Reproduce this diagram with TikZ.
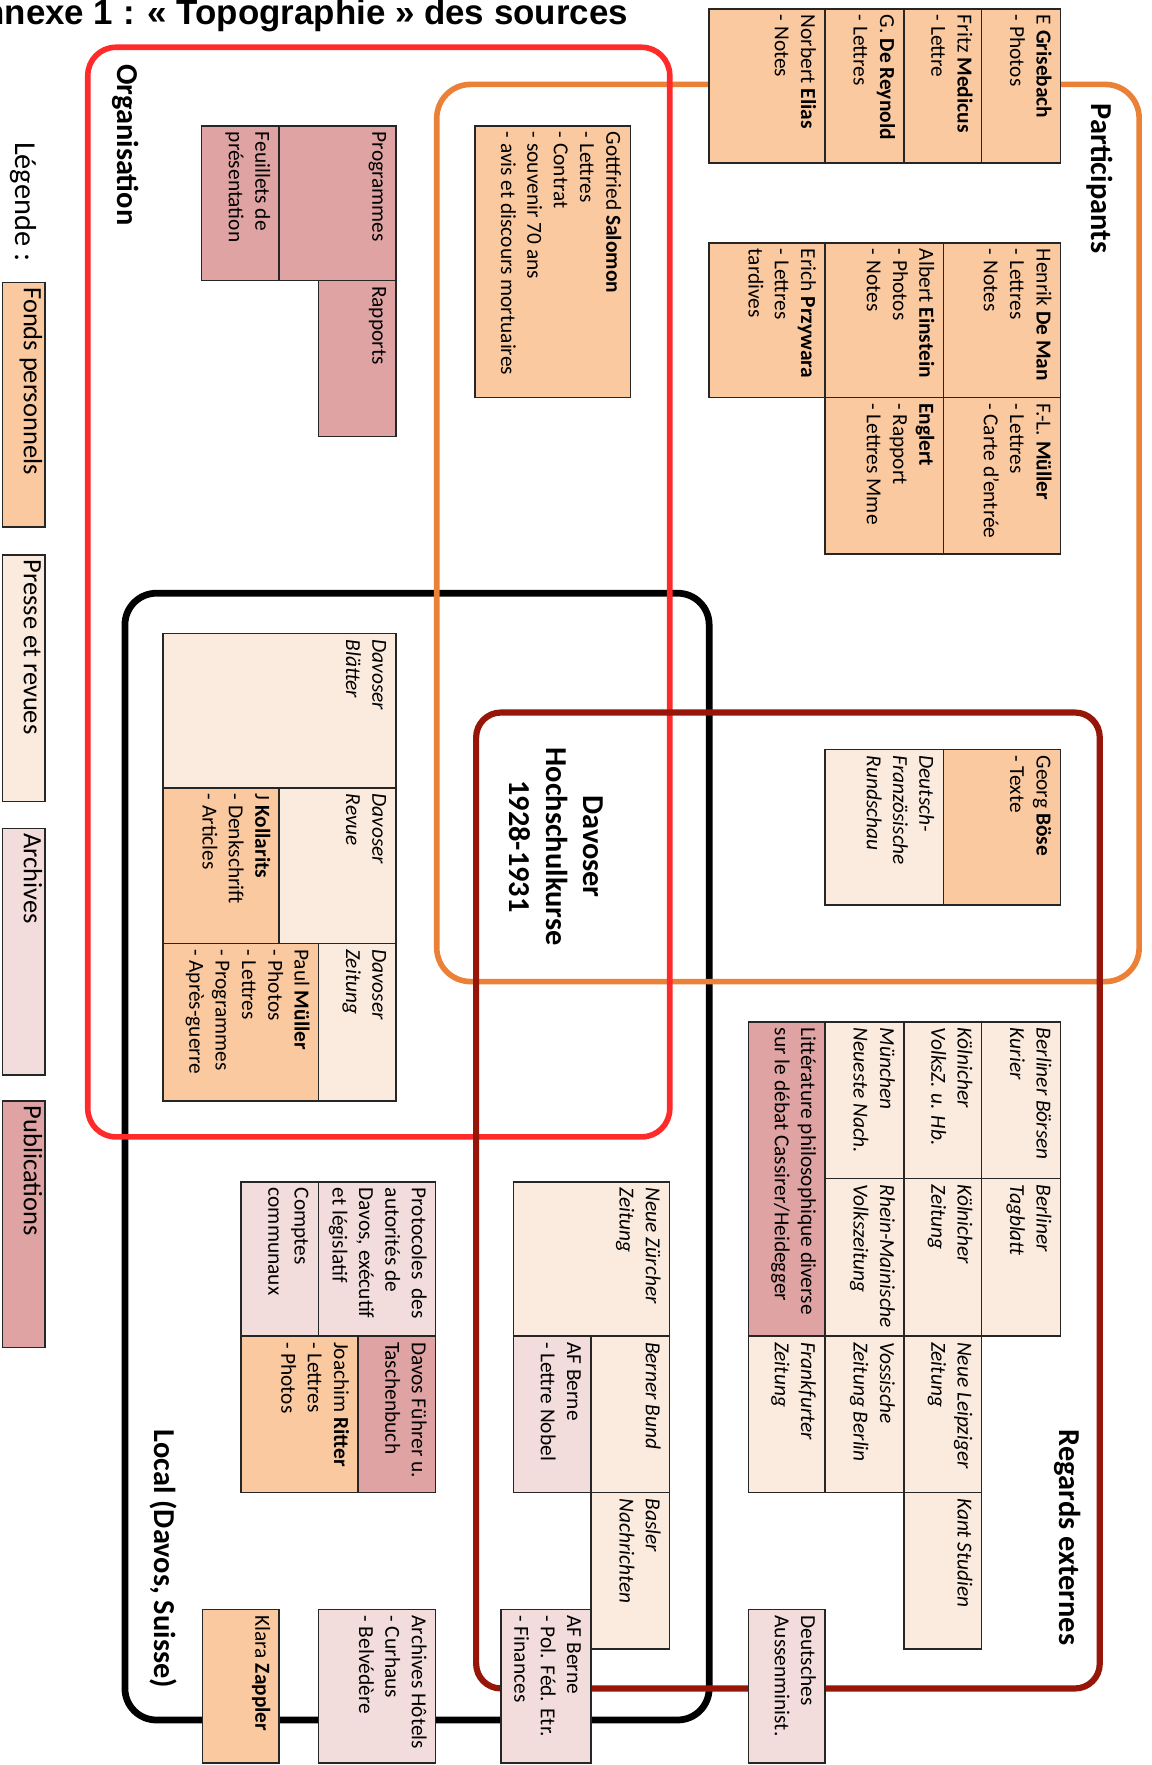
\documentclass[tikz,border=0pt]{standalone}
\usepackage{fontspec}
\setmainfont{Carlito}
\newfontfamily\titlefont{Liberation Sans}
\usetikzlibrary{calc}

\definecolor{cfonds}{HTML}{FAC9A0}
\definecolor{cpresse}{HTML}{FBEADE}
\definecolor{carch}{HTML}{F2DDDC}
\definecolor{cpub}{HTML}{E0A3A3}
\definecolor{cred}{HTML}{FF2A2A}
\definecolor{corange}{HTML}{EB8037}
\definecolor{cdark}{HTML}{96160A}

\newlength\protw

\tikzset{
  srcbox/.style={draw=black!85, line width=1.3pt, inner sep=0pt, outer sep=0pt, anchor=north west},
  srctext/.style={rotate=-90, anchor=north west, inner sep=0pt, align=left,
    font=\fontsize{19}{23.4}\selectfont},
  legtext/.style={rotate=-90, anchor=north west, inner sep=0pt, align=left,
    font=\fontsize{23.5}{28}\selectfont},
  grouptitle/.style={rotate=-90, inner sep=0pt, font=\fontsize{27}{33}\selectfont\bfseries},
  framebox/.style={line width=5pt},
}

\newcommand\src[7]{%
  \node[srcbox, fill=#6, minimum width={(#4-#2)*1pt}, minimum height={(#5-#3)*1pt}] (#1) at (#2,#3) {};
  \node[srctext] (#1-t) at ($(#1.north east)+(-6,5)$) {\rule{0pt}{15pt}#7};
}
\newcommand\legbox[6]{%
  \node[srcbox, fill=#6, minimum width={(#4-#2)*1pt}, minimum height={(#5-#3)*1pt}] (#1) at (#2,#3) {};
}

\begin{document}
\begin{tikzpicture}[x=1pt,y=-1pt]
\useasboundingbox (0,0) rectangle (1023,1568);
\clip (0,0) rectangle (1023,1568);

% title
\node[anchor=base east, inner sep=0pt, font=\titlefont\fontsize{31}{37}\bfseries\selectfont] (title) at (558,22) {Annexe 1 : « Topographie » des sources};

% group frames
\draw[framebox, black, line width=6pt, rounded corners=28pt] (111,527) rectangle (630,1528);
\draw[framebox, corange, rounded corners=30pt] (388,75) rectangle (1012,872);
\draw[framebox, cred, rounded corners=25pt] (78,42) rectangle (595,1010);
\draw[framebox, cdark, line width=5.5pt, rounded corners=22pt] (423,633) rectangle (977,1500);

% group titles
\node[grouptitle, anchor=west] (torg) at (112,57) {Organisation};
\node[grouptitle, anchor=west] (tpart) at (977,92) {Participants};
\node[grouptitle, anchor=west] (treg) at (948,1270) {Regards externes};
\node[grouptitle, anchor=west] (tloc) at (145,1270) {Local (Davos, Suisse)};
\node[grouptitle, align=center] (tcenter) at (494,752) {Davoser\\Hochschulkurse\\1928-1931};

% Participants
\src{grise}{872}{8}{942}{145}{cfonds}{E \textbf{Grisebach}\\- Photos}
\src{medicus}{803}{8}{872}{145}{cfonds}{Fritz \textbf{Medicus}\\- Lettre}
\src{reynold}{733}{8}{803}{145}{cfonds}{G. \textbf{De Reynold}\\- Lettres}
\src{elias}{630}{8}{733}{145}{cfonds}{Norbert \textbf{Elias}\\- Notes}
\src{deman}{838}{216}{942}{353}{cfonds}{Henrik \textbf{De Man}\\- Lettres\\- Notes}
\src{einstein}{733}{216}{838}{353}{cfonds}{Albert \textbf{Einstein}\\- Photos\\- Notes}
\src{przywara}{630}{216}{733}{353}{cfonds}{Erich \textbf{Przywara}\\- Lettres\\tardives}
\src{flmueller}{838}{353}{942}{492}{cfonds}{F.-L. \textbf{Müller}\\- Lettres\\- Carte d’entrée}
\src{englert}{733}{353}{838}{492}{cfonds}{\textbf{Englert}\\- Rapport\\- Lettres Mme}
\src{salomon}{422}{112}{560}{353}{cfonds}{Gottfried \textbf{Salomon}\\- Lettres\\- Contrat\\- souvenir 70 ans\\- avis et discours mortuaires}

% Organisation
\src{progr}{248}{112}{352}{249}{cpub}{Programmes}
\src{feuil}{179}{112}{248}{249}{cpub}{Feuillets de\\présentation}
\src{rapports}{283}{249}{352}{388}{cpub}{Rapports}
\src{blaetter}{145}{563}{352}{700}{cpresse}{\itshape Davoser\\\itshape Blätter}
\src{revue}{248}{700}{352}{838}{cpresse}{\itshape Davoser\\\itshape Revue}
\src{kollarits}{145}{700}{248}{838}{cfonds}{J \textbf{Kollarits}\\- Denkschrift\\- Articles}
\src{dzeitung}{283}{838}{352}{978}{cpresse}{\itshape Davoser\\\itshape Zeitung}
\src{pmueller}{145}{838}{283}{978}{cfonds}{Paul \textbf{Müller}\\- Photos\\- Lettres\\- Programmes\\- Après-guerre}

\src{boese}{838}{666}{942}{804}{cfonds}{Georg \textbf{Böse}\\- Texte}
\src{dfr}{733}{666}{838}{804}{cpresse}{\itshape Deutsch-\\\itshape Französische\\\itshape Rundschau}

% Regards externes
\src{bbk}{872}{908}{942}{1047}{cpresse}{\itshape Berliner Börsen\\\itshape Kurier}
\src{kvz}{803}{908}{872}{1047}{cpresse}{\itshape Kölnicher\\\itshape VolksZ. u. Hb.}
\src{mnn}{733}{908}{803}{1047}{cpresse}{\itshape München\\\itshape Neueste Nach.}
\src{litt}{665}{908}{733}{1187}{cpub}{Littérature philosophique diverse\\sur le débat Cassirer/Heidegger}
\src{btag}{872}{1047}{942}{1187}{cpresse}{\itshape Berliner\\\itshape Tagblatt}
\src{kz}{803}{1047}{872}{1187}{cpresse}{\itshape Kölnicher\\\itshape Zeitung}
\src{rmv}{733}{1047}{803}{1187}{cpresse}{\itshape Rhein-Mainische\\\itshape Volkszeitung}
\src{nlz}{803}{1187}{872}{1326}{cpresse}{\itshape Neue Leipziger\\\itshape Zeitung}
\src{voss}{733}{1187}{803}{1326}{cpresse}{\itshape Vossische\\\itshape Zeitung Berlin}
\src{frankf}{665}{1187}{733}{1326}{cpresse}{\itshape Frankfurter\\\itshape Zeitung}
\src{kant}{803}{1326}{872}{1465}{cpresse}{\itshape Kant Studien}
\src{daa}{665}{1430}{733}{1566}{carch}{Deutsches\\Aussenminist.}

% Local
\src{nzz}{456}{1050}{595}{1187}{cpresse}{\itshape Neue Zürcher\\\itshape Zeitung}
\src{bbund}{525}{1187}{595}{1326}{cpresse}{\itshape Berner Bund}
\src{afnobel}{456}{1187}{525}{1326}{carch}{AF Berne\\- Lettre Nobel}
\src{basler}{525}{1326}{595}{1465}{cpresse}{\itshape Basler\\\itshape Nachrichten}
\src{afpol}{445}{1430}{525}{1566}{carch}{AF Berne\\- Pol. Féd. Etr.\\- Finances}
\src{proto}{283}{1050}{387}{1187}{carch}{\settowidth{\protw}{Davos, exécutif}\makebox[\protw][s]{Protocoles des}\\autorités de\\Davos, exécutif\\et législatif}
\src{comptes}{214}{1050}{283}{1187}{carch}{Comptes\\communaux}
\src{fuehrer}{318}{1187}{387}{1326}{cpub}{Davos Führer u.\\Taschenbuch}
\src{ritter}{214}{1187}{318}{1326}{cfonds}{Joachim \textbf{Ritter}\\- Lettres\\- Photos}
\src{hotels}{283}{1430}{387}{1566}{carch}{Archives Hôtels\\- Curhaus\\- Belvédère}
\src{zappler}{180}{1430}{248}{1566}{cfonds}{Klara \textbf{Zappler}}

% Legend
\node[rotate=-90, anchor=base west, inner sep=0pt, font=\fontsize{27}{32}\selectfont] (legtitle) at (14,126) {Légende :};
\legbox{lfonds}{2}{251}{40}{468}{cfonds}
\legbox{lpresse}{2}{493}{40}{712}{cpresse}
\legbox{larch}{2}{736}{40}{955}{carch}
\legbox{lpub}{2}{978}{40}{1197}{cpub}
\node[legtext] (lfonds-t) at ($(lfonds.north east)+(-2,4)$) {\rule{0pt}{16.5pt}Fonds personnels};
\node[legtext] (lpresse-t) at ($(lpresse.north east)+(-2,4)$) {\rule{0pt}{16.5pt}Presse et revues};
\node[legtext] (larch-t) at ($(larch.north east)+(-2,4)$) {\rule{0pt}{16.5pt}Archives};
\node[legtext] (lpub-t) at ($(lpub.north east)+(-2,4)$) {\rule{0pt}{16.5pt}Publications};
\end{tikzpicture}
\end{document}
